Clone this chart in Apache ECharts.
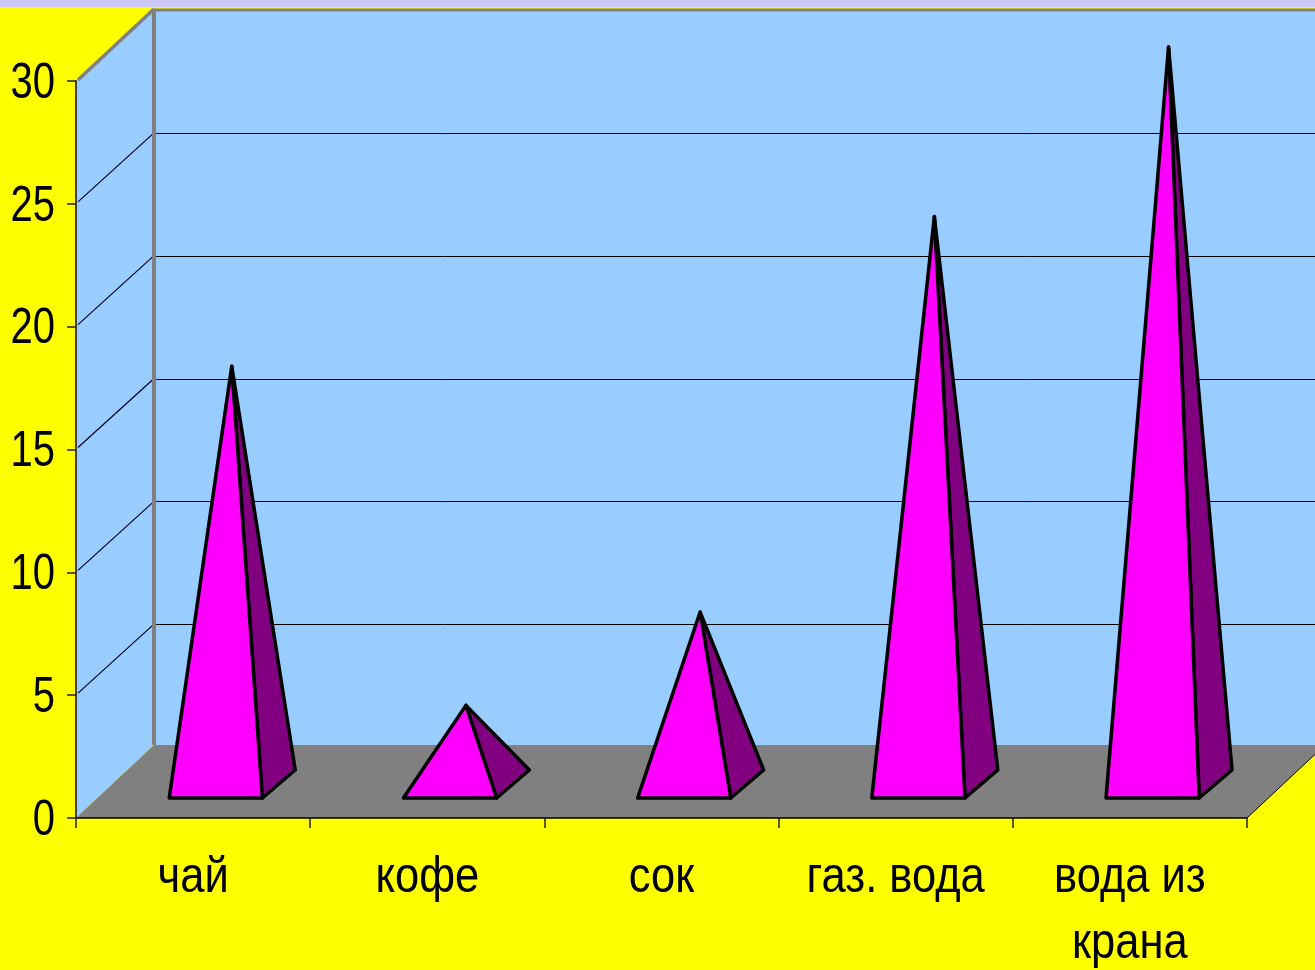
<!DOCTYPE html>
<html>
<head>
<meta charset="utf-8">
<style>
html, body { margin: 0; padding: 0; background: #ffff00; }
#chart { width: 1315px; height: 970px; }
</style>
<script src="https://cdn.jsdelivr.net/npm/echarts@6/dist/echarts.min.js"></script>
</head>
<body>
<div id="chart"></div>
<script>
var categories = ['чай', 'кофе', 'сок', 'газ. вода', 'вода из\nкрана'];
var drinkValues = [17, 3.2, 7, 23.1, 30];
var yTicks = [0, 5, 10, 15, 20, 25, 30];
var wallTicks = [5, 10, 15, 20, 25];

var font = '"Liberation Sans", Arial, sans-serif';
var depthX = 78;
var depthY = 71;

function poly(points, fill, stroke, width) {
    return {
        type: 'polygon',
        shape: { points: points },
        style: { fill: fill, stroke: stroke || null, lineWidth: width || 0, lineJoin: 'round' }
    };
}

function line(x1, y1, x2, y2, color, width) {
    return {
        type: 'line',
        shape: { x1: x1, y1: y1, x2: x2, y2: y2 },
        style: { stroke: color, lineWidth: width }
    };
}

// narrow text: no condensed face is installed, so squeeze Liberation Sans
function label(x, y, str, align, valign, squeeze) {
    return {
        type: 'text',
        x: x,
        y: y,
        scaleX: squeeze,
        style: {
            text: str,
            font: '50px ' + font,
            fill: '#000000',
            align: align,
            verticalAlign: valign,
            lineHeight: 66
        }
    };
}

// side wall, back wall, floor and the grid lines running over them
function renderWalls(params, api) {
    var g = params.coordSys;
    var left = g.x, right = g.x + g.width, top = g.y, bottom = g.y + g.height;
    var backX = left + depthX;
    var backTop = top - depthY;
    var floorBack = bottom - 73;
    var kids = [
        poly([[left, bottom], [backX, floorBack], [backX, backTop], [left, top]], '#99ccff'),
        poly([[backX, backTop], [right + depthX, backTop], [right + depthX, floorBack], [backX, floorBack]], '#99ccff')
    ];
    wallTicks.forEach(function (t) {
        var y = api.coord([0, t])[1];
        kids.push(line(left + 2, y - 2, backX, y - depthY, '#000020', 1.2));
        kids.push(line(backX, Math.round(y - depthY) + 0.5, right + depthX, Math.round(y - depthY) + 0.5, '#000000', 1));
    });
    kids.push(line(backX, backTop - 1, backX, floorBack, '#808080', 4));
    kids.push(line(backX, backTop, right + depthX, backTop, '#808080', 3));
    kids.push(line(left + 2, top - 1, backX, backTop - 1, '#808080', 3.5));
    kids.push(poly([[left, bottom], [right, bottom], [right + depthX, floorBack], [backX, floorBack]], '#808080'));
    kids.push(line(right, bottom, right + depthX, bottom - 73, '#000000', 1));
    return { type: 'group', children: kids };
}

function renderPyramid(params, api) {
    var i = api.value(0);
    var base = api.coord([i, 0]);
    var tip = api.coord([i, api.value(1)]);
    var band = api.size([1, 0])[0];
    var frontY = base[1] - 20;
    var backY = base[1] - 48;
    var fl = [base[0] - band * 0.102, frontY];
    var fr = [base[0] + band * 0.296, frontY];
    var br = [base[0] + band * 0.436, backY];
    var apex = [base[0] + band * 0.165, tip[1] - 34];
    return {
        type: 'group',
        children: [
            poly([fr, br, apex], '#800080', '#000000', 3.5),
            poly([fl, fr, apex], '#ff00ff', '#000000', 3.5)
        ]
    };
}

function renderLabels(params, api) {
    var g = params.coordSys;
    var kids = [];
    yTicks.forEach(function (t) {
        kids.push(label(g.x - 21, api.coord([0, t])[1] + 3, String(t), 'right', 'middle', 0.8));
    });
    categories.forEach(function (c, i) {
        kids.push(label(api.coord([i, 0])[0], g.y + g.height + 27, c, 'center', 'top', 0.87));
    });
    return { type: 'group', children: kids };
}

var chart = echarts.init(document.getElementById('chart'));
chart.setOption({
    animation: false,
    backgroundColor: '#ffff00',
    grid: { left: 76, right: 68, top: 81, bottom: 152, outerBoundsMode: 'none' },
    graphic: [
        { type: 'rect', shape: { x: 0, y: 0, width: 1315, height: 7 }, style: { fill: '#cdc8fa' }, z: 10 }
    ],
    xAxis: {
        type: 'category',
        data: categories,
        z: 5,
        axisLine: { lineStyle: { color: '#000000', width: 1.5 } },
        axisTick: { show: true, length: 10, alignWithLabel: false, lineStyle: { color: '#202020', width: 1.5 } },
        axisLabel: { show: false }
    },
    yAxis: {
        type: 'value',
        min: 0,
        max: 30,
        interval: 5,
        z: 5,
        splitLine: { show: false },
        axisLine: { show: true, lineStyle: { color: '#404040', width: 2 } },
        axisTick: { show: true, length: 9, lineStyle: { color: '#202020', width: 1.5 } },
        axisLabel: { show: false }
    },
    series: [
        {
            name: 'walls',
            type: 'custom',
            silent: true,
            z: 1,
            renderItem: renderWalls,
            data: [[0, 0]],
            clip: false
        },
        {
            name: 'drinks',
            type: 'custom',
            z: 3,
            renderItem: renderPyramid,
            encode: { x: 0, y: 1 },
            data: drinkValues.map(function (v, i) { return [i, v]; })
        },
        {
            name: 'labels',
            type: 'custom',
            silent: true,
            z: 6,
            renderItem: renderLabels,
            data: [[0, 0]],
            clip: false
        }
    ]
});
window.onresize = chart.resize;
</script>
</body>
</html>
